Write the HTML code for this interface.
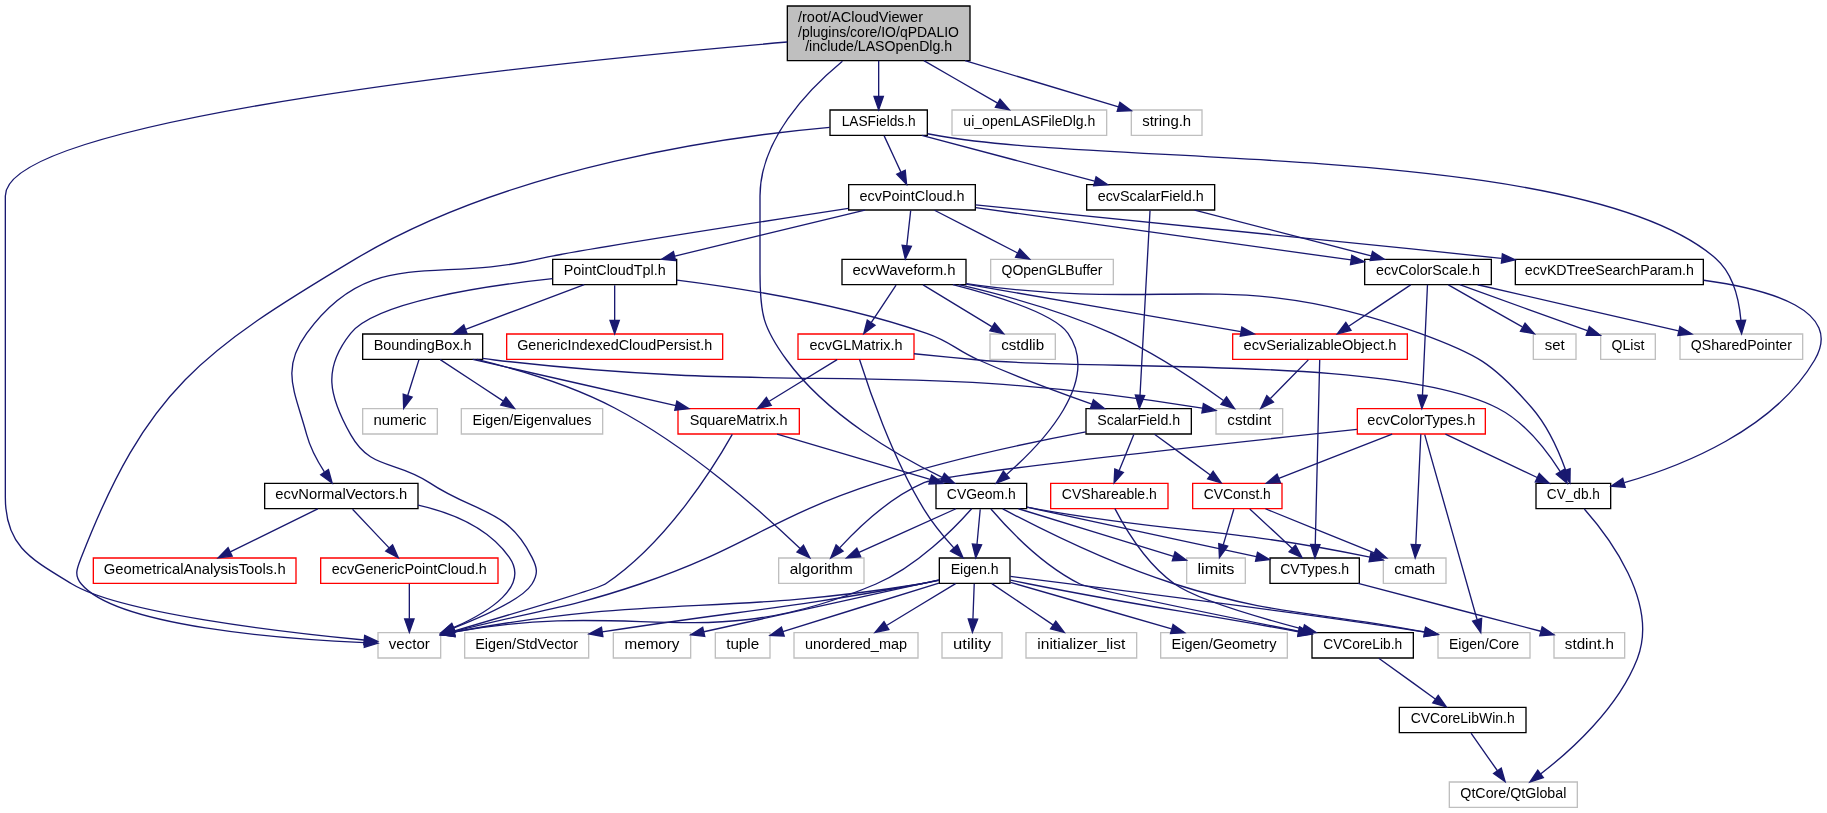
<!DOCTYPE html>
<html><head><meta charset="utf-8"><title>LASOpenDlg.h include dependency graph</title>
<style>
html,body{margin:0;padding:0;background:#fff;width:1827px;height:813px;overflow:hidden;font-family:"Liberation Sans",sans-serif}
svg{display:block;will-change:transform}
.e{fill:none;stroke:#191970}
.a{fill:#191970;stroke:#191970}

</style>
</head><body>
<svg width="1827" height="813" viewBox="0 0 1370.25 609.75">
<rect x="0" y="0" width="1370.25" height="609.75" fill="#ffffff"/>
<g transform="translate(4 606)" font-family="Liberation Sans" font-size="10.300">
<polygon fill="#bfbfbf" stroke="black" points="586.5,-560.5 586.5,-601.5 723.5,-601.5 723.5,-560.5 586.5,-560.5"/>
<text text-anchor="start" x="594.5" y="-589.5" textLength="93.75" lengthAdjust="spacingAndGlyphs">/root/ACloudViewer</text>
<text text-anchor="start" x="594.5" y="-578.5" textLength="120.75" lengthAdjust="spacingAndGlyphs">/plugins/core/IO/qPDALIO</text>
<text text-anchor="middle" x="655" y="-567.5" textLength="110.25" lengthAdjust="spacingAndGlyphs">/include/LASOpenDlg.h</text>
<polygon fill="white" stroke="black" points="618.5,-504.5 618.5,-523.5 691.5,-523.5 691.5,-504.5 618.5,-504.5"/>
<text text-anchor="middle" x="655" y="-511.5" textLength="55.50" lengthAdjust="spacingAndGlyphs">LASFields.h</text>
<path class="e" d="M655,-560.5C655,-552.07 655,-542.24 655,-533.87"/>
<polygon class="a" points="658.5,-533.65 655,-523.65 651.5,-533.65 658.5,-533.65"/>
<polygon fill="white" stroke="black" points="698,-224.5 698,-243.5 766,-243.5 766,-224.5 698,-224.5"/>
<text text-anchor="middle" x="732" y="-231.5" textLength="51.75" lengthAdjust="spacingAndGlyphs">CVGeom.h</text>
<path class="e" d="M627.81,-560.13C601.64,-538.48 566,-501.25 566,-459 566,-459 566,-459 566,-401 566,-370.77 568.14,-360.39 586,-336 616.49,-294.36 669.57,-263.97 702.64,-247.94"/>
<polygon class="a" points="704.25,-251.05 711.8,-243.62 701.26,-244.72 704.25,-251.05"/>
<polygon fill="white" stroke="#bfbfbf" points="279.5,-112.5 279.5,-131.5 326.5,-131.5 326.5,-112.5 279.5,-112.5"/>
<text text-anchor="middle" x="303" y="-119.5" textLength="30.75" lengthAdjust="spacingAndGlyphs">vector</text>
<path class="e" d="M586.45,-574.48C418.48,-560.05 0,-518.16 0,-459 0,-459 0,-459 0,-233 0,-196.55 18.84,-186.91 50,-168 86.34,-145.94 208.76,-131.79 268.98,-125.99"/>
<polygon class="a" points="269.49,-129.46 279.12,-125.04 268.84,-122.49 269.49,-129.46"/>
<polygon fill="white" stroke="#bfbfbf" points="710,-504.5 710,-523.5 826,-523.5 826,-504.5 710,-504.5"/>
<text text-anchor="middle" x="768" y="-511.5" textLength="99.00" lengthAdjust="spacingAndGlyphs">ui_openLASFileDlg.h</text>
<path class="e" d="M688.9,-560.5C706.73,-550.24 728.15,-537.93 744.2,-528.69"/>
<polygon class="a" points="746.03,-531.67 752.96,-523.65 742.54,-525.6 746.03,-531.67"/>
<polygon fill="white" stroke="#bfbfbf" points="844.5,-504.5 844.5,-523.5 897.5,-523.5 897.5,-504.5 844.5,-504.5"/>
<text text-anchor="middle" x="871" y="-511.5" textLength="36.75" lengthAdjust="spacingAndGlyphs">string.h</text>
<path class="e" d="M719.81,-560.5C757.48,-549.16 803.56,-535.3 834.87,-525.87"/>
<polygon class="a" points="835.92,-529.21 844.49,-522.98 833.9,-522.51 835.92,-529.21"/>
<polygon fill="white" stroke="black" points="632.5,-448.5 632.5,-467.5 727.5,-467.5 727.5,-448.5 632.5,-448.5"/>
<text text-anchor="middle" x="680" y="-455.5" textLength="78.75" lengthAdjust="spacingAndGlyphs">ecvPointCloud.h</text>
<path class="e" d="M659.13,-504.08C662.51,-496.77 667.42,-486.18 671.62,-477.1"/>
<polygon class="a" points="674.92,-478.3 675.95,-467.75 668.57,-475.36 674.92,-478.3"/>
<path class="e" d="M618.3,-510.48C545.62,-504.05 380.26,-482.24 263,-412 146.97,-342.5 106.13,-314.01 57,-188 53.77,-179.72 51.31,-174.83 57,-168 83.62,-136.07 208.07,-126.73 269.09,-124.05"/>
<polygon class="a" points="269.51,-127.54 279.36,-123.64 269.23,-120.54 269.51,-127.54"/>
<polygon fill="white" stroke="#bfbfbf" points="1256,-336.5 1256,-355.5 1348,-355.5 1348,-336.5 1256,-336.5"/>
<text text-anchor="middle" x="1302" y="-343.5" textLength="75.75" lengthAdjust="spacingAndGlyphs">QSharedPointer</text>
<path class="e" d="M691.64,-505.71C694.8,-505.12 697.95,-504.54 701,-504 829.94,-481.2 1184.7,-498.5 1283,-412 1296.08,-400.49 1300.39,-380.52 1301.69,-365.74"/>
<polygon class="a" points="1305.19,-365.85 1302.2,-355.68 1298.2,-365.49 1305.19,-365.85"/>
<polygon fill="white" stroke="black" points="811,-448.5 811,-467.5 907,-467.5 907,-448.5 811,-448.5"/>
<text text-anchor="middle" x="859" y="-455.5" textLength="79.50" lengthAdjust="spacingAndGlyphs">ecvScalarField.h</text>
<path class="e" d="M687.32,-504.44C722.39,-495.16 778.5,-480.31 816.96,-470.13"/>
<polygon class="a" points="818.06,-473.46 826.83,-467.52 816.26,-466.69 818.06,-473.46"/>
<polygon fill="white" stroke="black" points="410.5,-392.5 410.5,-411.5 503.5,-411.5 503.5,-392.5 410.5,-392.5"/>
<text text-anchor="middle" x="457" y="-399.5" textLength="76.50" lengthAdjust="spacingAndGlyphs">PointCloudTpl.h</text>
<path class="e" d="M644.66,-448.44C606.09,-439.1 544.22,-424.12 502.15,-413.93"/>
<polygon class="a" points="502.71,-410.47 492.17,-411.52 501.07,-417.27 502.71,-410.47"/>
<polygon fill="white" stroke="black" points="194.5,-224.5 194.5,-243.5 309.5,-243.5 309.5,-224.5 194.5,-224.5"/>
<text text-anchor="middle" x="252" y="-231.5" textLength="98.99" lengthAdjust="spacingAndGlyphs">ecvNormalVectors.h</text>
<path class="e" d="M632.32,-449.71C558.58,-438.37 423.04,-417.27 401,-412 321.58,-393 274.15,-421.96 226,-356 206.09,-328.72 217.25,-312.63 226,-280 228.65,-270.1 234.07,-260.13 239.27,-252.1"/>
<polygon class="a" points="242.29,-253.89 245.11,-243.68 236.54,-249.91 242.29,-253.89"/>
<polygon fill="white" stroke="black" points="627.5,-392.5 627.5,-411.5 720.5,-411.5 720.5,-392.5 627.5,-392.5"/>
<text text-anchor="middle" x="674" y="-399.5" textLength="77.25" lengthAdjust="spacingAndGlyphs">ecvWaveform.h</text>
<path class="e" d="M679.01,-448.08C678.21,-440.93 677.07,-430.64 676.08,-421.69"/>
<polygon class="a" points="679.56,-421.3 674.97,-411.75 672.6,-422.08 679.56,-421.3"/>
<polygon fill="white" stroke="black" points="1132.5,-392.5 1132.5,-411.5 1273.5,-411.5 1273.5,-392.5 1132.5,-392.5"/>
<text text-anchor="middle" x="1203" y="-399.5" textLength="126.74" lengthAdjust="spacingAndGlyphs">ecvKDTreeSearchParam.h</text>
<path class="e" d="M727.66,-452.37C807.15,-444.59 972.13,-428.28 1122.06,-412.2"/>
<polygon class="a" points="1122.8,-415.64 1132.37,-411.09 1122.05,-408.68 1122.8,-415.64"/>
<polygon fill="white" stroke="black" points="1019.5,-392.5 1019.5,-411.5 1114.5,-411.5 1114.5,-392.5 1019.5,-392.5"/>
<text text-anchor="middle" x="1067" y="-399.5" textLength="78.00" lengthAdjust="spacingAndGlyphs">ecvColorScale.h</text>
<path class="e" d="M727.84,-450.32C799.07,-440.39 932.78,-421.73 1009.32,-411.05"/>
<polygon class="a" points="1009.85,-414.51 1019.27,-409.66 1008.88,-407.58 1009.85,-414.51"/>
<polygon fill="white" stroke="#bfbfbf" points="739,-392.5 739,-411.5 831,-411.5 831,-392.5 739,-392.5"/>
<text text-anchor="middle" x="785" y="-399.5" textLength="75.75" lengthAdjust="spacingAndGlyphs">QOpenGLBuffer</text>
<path class="e" d="M696.87,-448.32C713.71,-439.66 739.81,-426.24 759.24,-416.25"/>
<polygon class="a" points="760.88,-419.34 768.17,-411.65 757.68,-413.12 760.88,-419.34"/>
<polygon fill="white" stroke="black" points="268,-336.5 268,-355.5 358,-355.5 358,-336.5 268,-336.5"/>
<text text-anchor="middle" x="313" y="-343.5" textLength="73.50" lengthAdjust="spacingAndGlyphs">BoundingBox.h</text>
<path class="e" d="M434.18,-392.44C410.17,-383.44 372.17,-369.19 345.13,-359.05"/>
<polygon class="a" points="346.3,-355.75 335.71,-355.52 343.84,-362.3 346.3,-355.75"/>
<path class="e" d="M410.38,-397.01C357.92,-391.43 277.58,-379.28 259,-356 237.93,-329.6 242.47,-309.46 259,-280 274.04,-253.21 292.45,-261.05 318,-244 353.2,-220.52 375.8,-225.71 395,-188 399.03,-180.08 399.71,-175.54 395,-168 388.17,-157.06 359.56,-144.08 336.03,-134.87"/>
<polygon class="a" points="337.26,-131.59 326.67,-131.3 334.76,-138.13 337.26,-131.59"/>
<polygon fill="white" stroke="red" points="376,-336.5 376,-355.5 538,-355.5 538,-336.5 376,-336.5"/>
<text text-anchor="middle" x="457" y="-343.5" textLength="146.25" lengthAdjust="spacingAndGlyphs">GenericIndexedCloudPersist.h</text>
<path class="e" d="M457,-392.08C457,-385.01 457,-374.86 457,-365.99"/>
<polygon class="a" points="460.5,-365.75 457,-355.75 453.5,-365.75 460.5,-365.75"/>
<polygon fill="white" stroke="black" points="810.5,-280.5 810.5,-299.5 889.5,-299.5 889.5,-280.5 810.5,-280.5"/>
<text text-anchor="middle" x="850" y="-287.5" textLength="62.25" lengthAdjust="spacingAndGlyphs">ScalarField.h</text>
<path class="e" d="M503.74,-395.97C551.71,-389.91 628.03,-377.7 691,-356 709.42,-349.65 712.18,-343.88 730,-336 758.08,-323.58 790.75,-311.48 814.91,-302.96"/>
<polygon class="a" points="816.09,-306.25 824.38,-299.65 813.78,-299.64 816.09,-306.25"/>
<polygon fill="white" stroke="#bfbfbf" points="908,-280.5 908,-299.5 958,-299.5 958,-280.5 908,-280.5"/>
<text text-anchor="middle" x="933" y="-287.5" textLength="33.00" lengthAdjust="spacingAndGlyphs">cstdint</text>
<path class="e" d="M358.03,-337.16C361.06,-336.73 364.07,-336.34 367,-336 599.05,-308.88 663.35,-337.66 897.66,-299.9"/>
<polygon class="a" points="898.56,-303.29 907.87,-298.23 897.43,-296.39 898.56,-303.29"/>
<polygon fill="white" stroke="red" points="504.5,-280.5 504.5,-299.5 595.5,-299.5 595.5,-280.5 504.5,-280.5"/>
<text text-anchor="middle" x="550" y="-287.5" textLength="73.50" lengthAdjust="spacingAndGlyphs">SquareMatrix.h</text>
<path class="e" d="M350.55,-336.44C391.81,-327.04 458.14,-311.93 502.87,-301.74"/>
<polygon class="a" points="503.65,-305.15 512.62,-299.52 502.09,-298.33 503.65,-305.15"/>
<polygon fill="white" stroke="#bfbfbf" points="580,-168.5 580,-187.5 644,-187.5 644,-168.5 580,-168.5"/>
<text text-anchor="middle" x="612" y="-175.5" textLength="47.25" lengthAdjust="spacingAndGlyphs">algorithm</text>
<path class="e" d="M353.64,-336.45C383.36,-329.23 424.06,-317.27 457,-300 513.17,-270.55 569.45,-220.12 596.09,-194.67"/>
<polygon class="a" points="598.62,-197.09 603.38,-187.62 593.75,-192.06 598.62,-197.09"/>
<polygon fill="white" stroke="#bfbfbf" points="342,-280.5 342,-299.5 448,-299.5 448,-280.5 342,-280.5"/>
<text text-anchor="middle" x="395" y="-287.5" textLength="89.25" lengthAdjust="spacingAndGlyphs">Eigen/Eigenvalues</text>
<path class="e" d="M326.17,-336.32C338.85,-327.98 358.23,-315.21 373.21,-305.35"/>
<polygon class="a" points="375.43,-308.08 381.86,-299.65 371.58,-302.23 375.43,-308.08"/>
<polygon fill="white" stroke="#bfbfbf" points="268,-280.5 268,-299.5 324,-299.5 324,-280.5 268,-280.5"/>
<text text-anchor="middle" x="296" y="-287.5" textLength="39.75" lengthAdjust="spacingAndGlyphs">numeric</text>
<path class="e" d="M310.19,-336.08C307.92,-328.85 304.63,-318.41 301.79,-309.4"/>
<polygon class="a" points="305.1,-308.24 298.75,-299.75 298.42,-310.34 305.1,-308.24"/>
<path class="e" d="M578.84,-280.44C609.86,-271.24 659.33,-256.56 693.62,-246.39"/>
<polygon class="a" points="694.71,-249.72 703.3,-243.52 692.71,-243.01 694.71,-249.72"/>
<path class="e" d="M545.21,-280.2C532.64,-257.95 496.47,-199.02 450,-168 445.14,-164.76 378.18,-144.91 336.33,-132.68"/>
<polygon class="a" points="337.12,-129.26 326.54,-129.82 335.16,-135.98 337.12,-129.26"/>
<polygon fill="white" stroke="black" points="948.5,-168.5 948.5,-187.5 1015.5,-187.5 1015.5,-168.5 948.5,-168.5"/>
<text text-anchor="middle" x="982" y="-175.5" textLength="51.74" lengthAdjust="spacingAndGlyphs">CVTypes.h</text>
<path class="e" d="M766.24,-225.6C810.93,-215.95 889.22,-199.04 938.19,-188.46"/>
<polygon class="a" points="939.14,-191.84 948.18,-186.31 937.66,-185 939.14,-191.84"/>
<polygon fill="white" stroke="#bfbfbf" points="1033.5,-168.5 1033.5,-187.5 1080.5,-187.5 1080.5,-168.5 1033.5,-168.5"/>
<text text-anchor="middle" x="1057" y="-175.5" textLength="30.75" lengthAdjust="spacingAndGlyphs">cmath</text>
<path class="e" d="M766.23,-225.63C769.19,-225.06 772.15,-224.5 775,-224 882.42,-205.04 913.43,-210.88 1023.49,-188.1"/>
<polygon class="a" points="1024.25,-191.52 1033.32,-186.03 1022.81,-184.67 1024.25,-191.52"/>
<path class="e" d="M712.99,-224.44C693.41,-215.64 662.69,-201.81 640.27,-191.72"/>
<polygon class="a" points="641.48,-188.43 630.93,-187.52 638.61,-194.81 641.48,-188.43"/>
<polygon fill="white" stroke="#bfbfbf" points="1074.5,-112.5 1074.5,-131.5 1143.5,-131.5 1143.5,-112.5 1074.5,-112.5"/>
<text text-anchor="middle" x="1109" y="-119.5" textLength="52.50" lengthAdjust="spacingAndGlyphs">Eigen/Core</text>
<path class="e" d="M748.04,-224.31C774.28,-210.45 828.32,-183.34 877,-168 955.13,-143.38 979.73,-148.12 1064.36,-132.07"/>
<polygon class="a" points="1065.27,-135.46 1074.42,-130.12 1063.94,-128.58 1065.27,-135.46"/>
<path class="e" d="M724.75,-224.43C711.94,-209.97 683.75,-181.02 653,-168 525.1,-113.83 476.85,-157.21 336.9,-132.05"/>
<polygon class="a" points="337.14,-128.53 326.66,-130.11 335.84,-135.41 337.14,-128.53"/>
<polygon fill="white" stroke="black" points="700.5,-168.5 700.5,-187.5 753.5,-187.5 753.5,-168.5 700.5,-168.5"/>
<text text-anchor="middle" x="727" y="-175.5" textLength="36.00" lengthAdjust="spacingAndGlyphs">Eigen.h</text>
<path class="e" d="M731.17,-224.08C730.52,-217.01 729.58,-206.86 728.76,-197.99"/>
<polygon class="a" points="732.22,-197.39 727.81,-187.75 725.25,-198.03 732.22,-197.39"/>
<polygon fill="white" stroke="black" points="980,-112.5 980,-131.5 1056,-131.5 1056,-112.5 980,-112.5"/>
<text text-anchor="middle" x="1018" y="-119.5" textLength="59.25" lengthAdjust="spacingAndGlyphs">CVCoreLib.h</text>
<path class="e" d="M739.2,-224.28C751.39,-210.11 777.57,-182.26 806,-168 813.35,-164.31 909.59,-144.66 969.85,-132.58"/>
<polygon class="a" points="970.8,-135.96 979.92,-130.56 969.43,-129.1 970.8,-135.96"/>
<polygon fill="white" stroke="#bfbfbf" points="886,-168.5 886,-187.5 930,-187.5 930,-168.5 886,-168.5"/>
<text text-anchor="middle" x="908" y="-175.5" textLength="27.75" lengthAdjust="spacingAndGlyphs">limits</text>
<path class="e" d="M759.89,-224.44C791.51,-214.74 842.97,-198.95 876.15,-188.77"/>
<polygon class="a" points="877.28,-192.09 885.82,-185.81 875.23,-185.39 877.28,-192.09"/>
<polygon fill="white" stroke="#bfbfbf" points="1161.5,-112.5 1161.5,-131.5 1214.5,-131.5 1214.5,-112.5 1161.5,-112.5"/>
<text text-anchor="middle" x="1188" y="-119.5" textLength="36.75" lengthAdjust="spacingAndGlyphs">stdint.h</text>
<path class="e" d="M1014.64,-168.44C1051.92,-158.67 1112.77,-142.72 1151.57,-132.55"/>
<polygon class="a" points="1152.62,-135.89 1161.41,-129.97 1150.85,-129.12 1152.62,-135.89"/>
<path class="e" d="M753.76,-173.68C819.56,-165.48 988.73,-144.17 1064.42,-131.96"/>
<polygon class="a" points="1065.16,-135.39 1074.46,-130.3 1064.02,-128.48 1065.16,-135.39"/>
<path class="e" d="M700.18,-170.65C695.47,-169.67 690.61,-168.74 686,-168 534.34,-143.66 490.82,-160.61 336.5,-132"/>
<polygon class="a" points="337.13,-128.56 326.66,-130.14 335.83,-135.44 337.13,-128.56"/>
<polygon fill="white" stroke="#bfbfbf" points="765.5,-112.5 765.5,-131.5 848.5,-131.5 848.5,-112.5 765.5,-112.5"/>
<text text-anchor="middle" x="807" y="-119.5" textLength="66.00" lengthAdjust="spacingAndGlyphs">initializer_list</text>
<path class="e" d="M739.85,-168.32C752.22,-159.98 771.13,-147.21 785.74,-137.35"/>
<polygon class="a" points="787.85,-140.15 794.18,-131.65 783.93,-134.35 787.85,-140.15"/>
<polygon fill="white" stroke="#bfbfbf" points="866.5,-112.5 866.5,-131.5 961.5,-131.5 961.5,-112.5 866.5,-112.5"/>
<text text-anchor="middle" x="914" y="-119.5" textLength="78.75" lengthAdjust="spacingAndGlyphs">Eigen/Geometry</text>
<path class="e" d="M753.79,-169.26C785.46,-160.12 838.41,-144.83 874.72,-134.34"/>
<polygon class="a" points="875.84,-137.66 884.48,-131.52 873.9,-130.94 875.84,-137.66"/>
<polygon fill="white" stroke="#bfbfbf" points="344.5,-112.5 344.5,-131.5 437.5,-131.5 437.5,-112.5 344.5,-112.5"/>
<text text-anchor="middle" x="391" y="-119.5" textLength="77.24" lengthAdjust="spacingAndGlyphs">Eigen/StdVector</text>
<path class="e" d="M700.15,-170.84C695.44,-169.83 690.59,-168.85 686,-168 583.46,-149.05 554.8,-148.54 447.66,-132.08"/>
<polygon class="a" points="448.16,-128.62 437.75,-130.55 447.09,-135.54 448.16,-128.62"/>
<polygon fill="white" stroke="#bfbfbf" points="456,-112.5 456,-131.5 514,-131.5 514,-112.5 456,-112.5"/>
<text text-anchor="middle" x="485" y="-119.5" textLength="41.25" lengthAdjust="spacingAndGlyphs">memory</text>
<path class="e" d="M700.31,-171.14C654.03,-160.97 560.9,-140.49 523.93,-132.17"/>
<polygon class="a" points="524.56,-128.72 514.04,-129.93 523.01,-135.55 524.56,-128.72"/>
<path class="e" d="M753.87,-170.94C758.58,-169.92 763.43,-168.91 768,-168 854.81,-150.78 879.24,-148.74 969.91,-132.18"/>
<polygon class="a" points="970.59,-135.61 979.79,-130.36 969.32,-128.73 970.59,-135.61"/>
<polygon fill="white" stroke="#bfbfbf" points="532.5,-112.5 532.5,-131.5 573.5,-131.5 573.5,-112.5 532.5,-112.5"/>
<text text-anchor="middle" x="553" y="-119.5" textLength="24.75" lengthAdjust="spacingAndGlyphs">tuple</text>
<path class="e" d="M700.19,-168.68C668.57,-158.87 616.15,-142.6 583.14,-132.36"/>
<polygon class="a" points="584.16,-129 573.57,-129.38 582.08,-135.69 584.16,-129"/>
<polygon fill="white" stroke="#bfbfbf" points="591.5,-112.5 591.5,-131.5 684.5,-131.5 684.5,-112.5 591.5,-112.5"/>
<text text-anchor="middle" x="638" y="-119.5" textLength="76.50" lengthAdjust="spacingAndGlyphs">unordered_map</text>
<path class="e" d="M712.7,-168.32C698.82,-159.9 677.51,-146.97 661.2,-137.07"/>
<polygon class="a" points="662.63,-133.85 652.26,-131.65 659,-139.83 662.63,-133.85"/>
<polygon fill="white" stroke="#bfbfbf" points="702.5,-112.5 702.5,-131.5 747.5,-131.5 747.5,-112.5 702.5,-112.5"/>
<text text-anchor="middle" x="725" y="-119.5" textLength="28.50" lengthAdjust="spacingAndGlyphs">utility</text>
<path class="e" d="M726.67,-168.08C726.41,-161.01 726.03,-150.86 725.7,-141.99"/>
<polygon class="a" points="729.19,-141.61 725.32,-131.75 722.2,-141.87 729.19,-141.61"/>
<polygon fill="white" stroke="black" points="1045.5,-56.5 1045.5,-75.5 1140.5,-75.5 1140.5,-56.5 1045.5,-56.5"/>
<text text-anchor="middle" x="1093" y="-63.5" textLength="78.00" lengthAdjust="spacingAndGlyphs">CVCoreLibWin.h</text>
<path class="e" d="M1030.05,-112.32C1041.46,-104.11 1058.83,-91.6 1072.43,-81.81"/>
<polygon class="a" points="1074.66,-84.52 1080.73,-75.83 1070.57,-78.84 1074.66,-84.52"/>
<polygon fill="white" stroke="#bfbfbf" points="1083,-0.5 1083,-19.5 1179,-19.5 1179,-0.5 1083,-0.5"/>
<text text-anchor="middle" x="1131" y="-7.5" textLength="79.50" lengthAdjust="spacingAndGlyphs">QtCore/QtGlobal</text>
<path class="e" d="M1099.27,-56.08C1104.64,-48.46 1112.52,-37.26 1119.08,-27.94"/>
<polygon class="a" points="1121.95,-29.94 1124.84,-19.75 1116.22,-25.91 1121.95,-29.94"/>
<path class="e" d="M810.39,-282.05C770.4,-274.54 707.12,-261.29 654,-244 572.2,-217.38 557.47,-195.61 476,-168 417.74,-148.25 399.26,-148.66 336.74,-132.39"/>
<polygon class="a" points="337.31,-128.92 326.75,-129.75 335.52,-135.69 337.31,-128.92"/>
<polygon fill="white" stroke="red" points="890.5,-224.5 890.5,-243.5 957.5,-243.5 957.5,-224.5 890.5,-224.5"/>
<text text-anchor="middle" x="924" y="-231.5" textLength="50.25" lengthAdjust="spacingAndGlyphs">CVConst.h</text>
<path class="e" d="M861.89,-280.32C873.15,-272.11 890.29,-259.6 903.71,-249.81"/>
<polygon class="a" points="905.88,-252.56 911.89,-243.83 901.75,-246.9 905.88,-252.56"/>
<polygon fill="white" stroke="red" points="784,-224.5 784,-243.5 872,-243.5 872,-224.5 784,-224.5"/>
<text text-anchor="middle" x="828" y="-231.5" textLength="71.25" lengthAdjust="spacingAndGlyphs">CVShareable.h</text>
<path class="e" d="M846.37,-280.08C843.39,-272.77 839.07,-262.18 835.38,-253.1"/>
<polygon class="a" points="838.58,-251.69 831.57,-243.75 832.1,-254.33 838.58,-251.69"/>
<path class="e" d="M933.32,-224.32C941.89,-216.34 954.81,-204.31 965.19,-194.65"/>
<polygon class="a" points="967.58,-197.21 972.51,-187.83 962.81,-192.09 967.58,-197.21"/>
<path class="e" d="M945.07,-224.44C967.06,-215.52 1001.73,-201.44 1026.66,-191.32"/>
<polygon class="a" points="1028.08,-194.52 1036.02,-187.52 1025.44,-188.04 1028.08,-194.52"/>
<path class="e" d="M921.36,-224.08C919.21,-216.85 916.12,-206.41 913.45,-197.4"/>
<polygon class="a" points="916.79,-196.34 910.59,-187.75 910.08,-198.33 916.79,-196.34"/>
<path class="e" d="M832.18,-224.49C839.41,-210.63 855.56,-183.21 877,-168 892.64,-156.91 937.98,-143.45 973.06,-134.16"/>
<polygon class="a" points="974.33,-137.45 983.12,-131.54 972.56,-130.67 974.33,-137.45"/>
<path class="e" d="M309.58,-227.18C334.92,-221.43 362.41,-210.12 378,-188 393.29,-166.3 363.01,-147.17 336.47,-135.39"/>
<polygon class="a" points="337.53,-132.03 326.95,-131.38 334.82,-138.49 337.53,-132.03"/>
<polygon fill="white" stroke="red" points="66,-168.5 66,-187.5 218,-187.5 218,-168.5 66,-168.5"/>
<text text-anchor="middle" x="142" y="-175.5" textLength="136.49" lengthAdjust="spacingAndGlyphs">GeometricalAnalysisTools.h</text>
<path class="e" d="M234.33,-224.32C216.61,-215.62 189.1,-202.12 168.71,-192.11"/>
<polygon class="a" points="170.15,-188.92 159.63,-187.65 167.06,-195.2 170.15,-188.92"/>
<polygon fill="white" stroke="red" points="236.5,-168.5 236.5,-187.5 369.5,-187.5 369.5,-168.5 236.5,-168.5"/>
<text text-anchor="middle" x="303" y="-175.5" textLength="116.25" lengthAdjust="spacingAndGlyphs">ecvGenericPointCloud.h</text>
<path class="e" d="M260.42,-224.08C267.85,-216.22 278.85,-204.57 287.81,-195.08"/>
<polygon class="a" points="290.41,-197.42 294.74,-187.75 285.32,-192.62 290.41,-197.42"/>
<path class="e" d="M303,-168.08C303,-161.01 303,-150.86 303,-141.99"/>
<polygon class="a" points="306.5,-141.75 303,-131.75 299.5,-141.75 306.5,-141.75"/>
<path class="e" d="M715.19,-392.47C747.31,-385.03 792.58,-372.79 830,-356 860.95,-342.11 893.56,-320.1 913.59,-305.61"/>
<polygon class="a" points="915.88,-308.27 921.86,-299.53 911.73,-302.63 915.88,-308.27"/>
<path class="e" d="M710.68,-392.5C743.11,-384.15 786.81,-370.58 797,-356 822.01,-320.22 778.01,-273.74 750.91,-250.16"/>
<polygon class="a" points="753.04,-247.37 743.14,-243.61 748.53,-252.73 753.04,-247.37"/>
<polygon fill="white" stroke="black" points="1148,-224.5 1148,-243.5 1204,-243.5 1204,-224.5 1148,-224.5"/>
<text text-anchor="middle" x="1176" y="-231.5" textLength="39.75" lengthAdjust="spacingAndGlyphs">CV_db.h</text>
<path class="e" d="M720.72,-393.31C723.86,-392.85 726.97,-392.41 730,-392 876.66,-372.25 921.9,-406.49 1061,-356 1103.18,-340.69 1115.62,-333.91 1145,-300 1156.87,-286.3 1165.24,-267.26 1170.27,-253.33"/>
<polygon class="a" points="1173.59,-254.44 1173.46,-243.84 1166.95,-252.2 1173.59,-254.44"/>
<polygon fill="white" stroke="#bfbfbf" points="738.5,-336.5 738.5,-355.5 787.5,-355.5 787.5,-336.5 738.5,-336.5"/>
<text text-anchor="middle" x="763" y="-343.5" textLength="32.25" lengthAdjust="spacingAndGlyphs">cstdlib</text>
<path class="e" d="M688.3,-392.32C702.18,-383.9 723.49,-370.97 739.8,-361.07"/>
<polygon class="a" points="742,-363.83 748.74,-355.65 738.37,-357.85 742,-363.83"/>
<polygon fill="white" stroke="red" points="594.5,-336.5 594.5,-355.5 681.5,-355.5 681.5,-336.5 594.5,-336.5"/>
<text text-anchor="middle" x="638" y="-343.5" textLength="69.75" lengthAdjust="spacingAndGlyphs">ecvGLMatrix.h</text>
<path class="e" d="M668.06,-392.08C663.02,-384.53 655.66,-373.49 649.49,-364.23"/>
<polygon class="a" points="652.29,-362.13 643.83,-355.75 646.47,-366.01 652.29,-362.13"/>
<polygon fill="white" stroke="red" points="920.5,-336.5 920.5,-355.5 1051.5,-355.5 1051.5,-336.5 920.5,-336.5"/>
<text text-anchor="middle" x="986" y="-343.5" textLength="114.75" lengthAdjust="spacingAndGlyphs">ecvSerializableObject.h</text>
<path class="e" d="M720.71,-392.92C775.59,-383.42 866.73,-367.64 926.59,-357.28"/>
<polygon class="a" points="927.39,-360.7 936.65,-355.54 926.2,-353.8 927.39,-360.7"/>
<path class="e" d="M1184.24,-224.21C1201.89,-204.27 1240.43,-154.11 1224,-112 1209.48,-74.79 1174.11,-43.01 1151.42,-25.5"/>
<polygon class="a" points="1153.51,-22.7 1143.41,-19.51 1149.32,-28.3 1153.51,-22.7"/>
<path class="e" d="M623.86,-336.32C610.13,-327.9 589.06,-314.97 572.94,-305.07"/>
<polygon class="a" points="574.46,-301.9 564.1,-299.65 570.8,-307.87 574.46,-301.9"/>
<path class="e" d="M640.64,-336.36C647.09,-315.9 664.93,-263.26 689,-224 695.33,-213.67 703.95,-203.26 711.37,-195.06"/>
<polygon class="a" points="714,-197.37 718.27,-187.68 708.88,-192.59 714,-197.37"/>
<path class="e" d="M681.52,-340.7C696.84,-339.19 714.18,-337.51 730,-336 816.42,-327.77 1041.66,-339.44 1119,-300 1139.82,-289.38 1156.4,-267.64 1166.19,-252.23"/>
<polygon class="a" points="1169.22,-253.98 1171.39,-243.61 1163.23,-250.36 1169.22,-253.98"/>
<path class="e" d="M977.25,-336.08C969.53,-328.22 958.1,-316.57 948.78,-307.08"/>
<polygon class="a" points="951.09,-304.44 941.59,-299.75 946.1,-309.34 951.09,-304.44"/>
<path class="e" d="M985.78,-336.08C985.16,-309.95 983.31,-233.21 982.45,-197.58"/>
<polygon class="a" points="985.95,-197.48 982.21,-187.57 978.95,-197.65 985.95,-197.48"/>
<path class="e" d="M1273.71,-395.83C1323.88,-388.98 1378.75,-373.04 1357,-336 1326.3,-283.71 1257.6,-256.5 1214.23,-244.01"/>
<polygon class="a" points="1214.89,-240.56 1204.32,-241.28 1213.03,-247.31 1214.89,-240.56"/>
<path class="e" d="M1053.99,-392.32C1041.47,-383.98 1022.32,-371.21 1007.53,-361.35"/>
<polygon class="a" points="1009.24,-358.29 998.98,-355.65 1005.36,-364.11 1009.24,-358.29"/>
<polygon fill="white" stroke="#bfbfbf" points="1146,-336.5 1146,-355.5 1178,-355.5 1178,-336.5 1146,-336.5"/>
<text text-anchor="middle" x="1162" y="-343.5" textLength="15.00" lengthAdjust="spacingAndGlyphs">set</text>
<path class="e" d="M1082.26,-392.32C1097.22,-383.82 1120.25,-370.73 1137.73,-360.8"/>
<polygon class="a" points="1139.81,-363.64 1146.77,-355.65 1136.35,-357.55 1139.81,-363.64"/>
<path class="e" d="M1104.24,-392.44C1145.06,-383.06 1210.64,-367.99 1254.98,-357.8"/>
<polygon class="a" points="1255.98,-361.17 1264.94,-355.52 1254.41,-354.34 1255.98,-361.17"/>
<polygon fill="white" stroke="red" points="1014,-280.5 1014,-299.5 1110,-299.5 1110,-280.5 1014,-280.5"/>
<text text-anchor="middle" x="1062" y="-287.5" textLength="80.99" lengthAdjust="spacingAndGlyphs">ecvColorTypes.h</text>
<path class="e" d="M1066.61,-392.37C1065.8,-374.62 1063.94,-333.67 1062.85,-309.6"/>
<polygon class="a" points="1066.34,-309.42 1062.39,-299.59 1059.35,-309.74 1066.34,-309.42"/>
<polygon fill="white" stroke="#bfbfbf" points="1196.5,-336.5 1196.5,-355.5 1237.5,-355.5 1237.5,-336.5 1196.5,-336.5"/>
<text text-anchor="middle" x="1217" y="-343.5" textLength="24.75" lengthAdjust="spacingAndGlyphs">QList</text>
<path class="e" d="M1090.77,-392.44C1116.67,-383.12 1158.18,-368.18 1186.47,-357.99"/>
<polygon class="a" points="1188.02,-361.15 1196.24,-354.47 1185.65,-354.57 1188.02,-361.15"/>
<path class="e" d="M1061.61,-280.37C1060.8,-262.62 1058.94,-221.67 1057.85,-197.6"/>
<polygon class="a" points="1061.34,-197.42 1057.39,-187.59 1054.35,-197.74 1061.34,-197.42"/>
<path class="e" d="M1013.67,-283.91C916.13,-273.54 703.71,-250.4 689,-244 663.56,-232.92 640.08,-210.62 625.9,-195.25"/>
<polygon class="a" points="628.3,-192.68 619.03,-187.54 623.07,-197.34 628.3,-192.68"/>
<path class="e" d="M1064.53,-280.08C1071.93,-253.95 1093.65,-177.21 1103.74,-141.58"/>
<polygon class="a" points="1107.22,-142.14 1106.57,-131.57 1100.48,-140.24 1107.22,-142.14"/>
<path class="e" d="M1040.13,-280.44C1017.22,-271.48 981.02,-257.31 955.13,-247.18"/>
<polygon class="a" points="956.35,-243.9 945.76,-243.52 953.8,-250.42 956.35,-243.9"/>
<path class="e" d="M1080.06,-280.44C1098.57,-271.68 1127.58,-257.94 1148.86,-247.86"/>
<polygon class="a" points="1150.48,-250.96 1158.02,-243.52 1147.49,-244.63 1150.48,-250.96"/>
<path class="e" d="M858.52,-448.08C857.1,-421.95 852.94,-345.21 851.01,-309.58"/>
<polygon class="a" points="854.5,-309.36 850.46,-299.57 847.51,-309.74 854.5,-309.36"/>
<path class="e" d="M891.96,-448.44C927.79,-439.14 985.16,-424.25 1024.39,-414.06"/>
<polygon class="a" points="1025.4,-417.42 1034.2,-411.52 1023.64,-410.64 1025.4,-417.42"/>
</g>
</svg>
</body></html>
